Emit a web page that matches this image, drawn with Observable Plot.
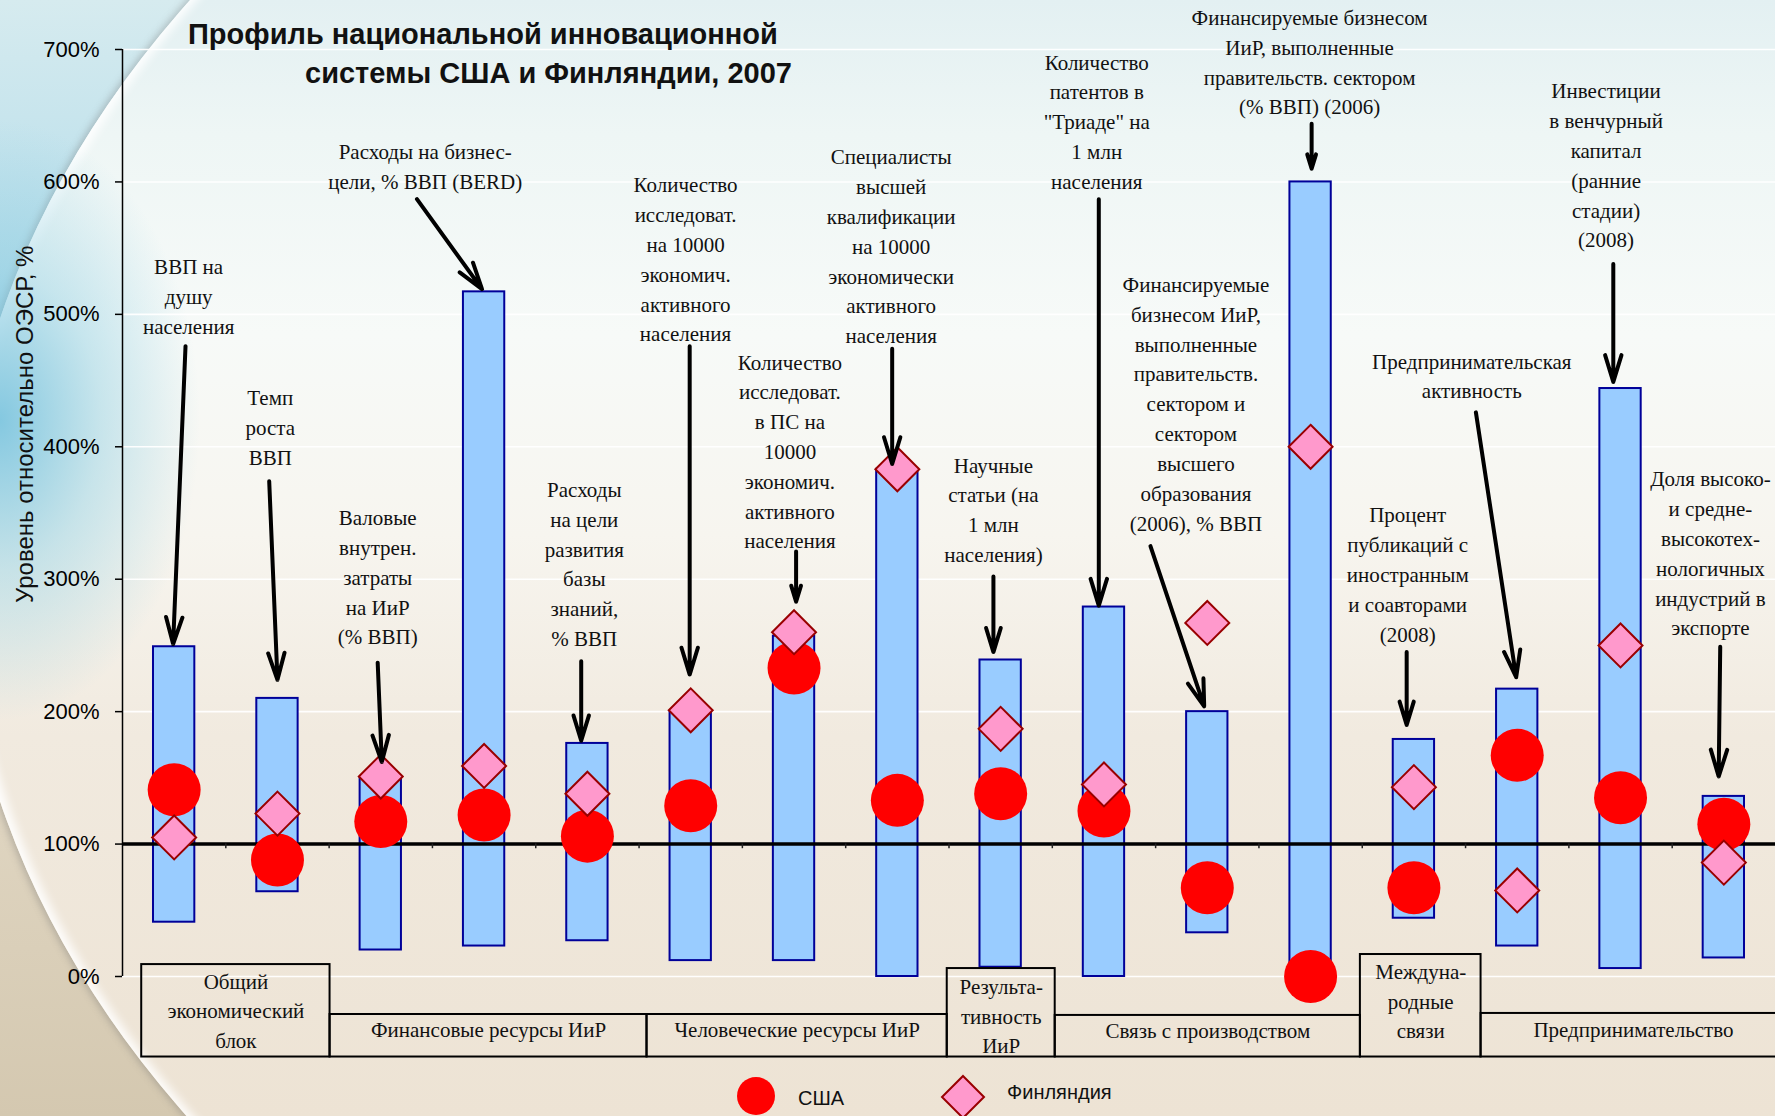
<!DOCTYPE html>
<html lang="ru">
<head>
<meta charset="utf-8">
<script src="https://cdn.jsdelivr.net/npm/d3@7"></script>
<script src="https://cdn.jsdelivr.net/npm/@observablehq/plot@0.6"></script>
<style>
  html, body { margin: 0; padding: 0; }
  body {
    width: 1775px; height: 1116px; overflow: hidden; position: relative;
    background: linear-gradient(180deg, #d6ebef 0%, #b3dcea 26%, #93cbe0 40%, #d8ddd2 54%, #e0d6c2 70%, #d4c8b0 100%);
  }
  /* large pale sheet whose left rim forms the curved edge of the slide */
  #sheet {
    position: absolute; left: -40px; top: -505px; width: 3080px; height: 2130px;
    border-radius: 50%;
    background: linear-gradient(180deg, #e3f0f2 0%, #eef6f5 12%, #f7faf8 30%, #f7f5ef 48%, #f1eadf 66%, #ede3d4 100%);
    background-attachment: fixed;
    box-shadow: inset 7px 0 10px rgba(255,255,255,0.9), -3px 0 7px rgba(110,110,110,0.35);
  }
  /* bluish glow along the left edge */
  #glow {
    position: absolute; left: -200px; top: 120px; width: 400px; height: 600px;
    background: radial-gradient(ellipse 50% 50% at 50% 50%, rgba(120,195,222,0.9) 0%, rgba(140,205,225,0.45) 50%, rgba(140,205,225,0) 100%);
  }
  #chart { position: absolute; left: 0; top: 0; }
  .title {
    position: absolute; font: bold 29px "Liberation Sans", Arial, sans-serif;
    line-height: 1; color: #111; white-space: nowrap;
  }
  .leg { position: absolute; font: 20px "Liberation Sans", Arial, sans-serif; line-height: 1; color: #111; }
  .sym { position: absolute; }
</style>
</head>
<body>
<div id="sheet"></div>
<div id="glow"></div>
<div id="chart"></div>
<div class="title" style="left:188px; top:20px">Профиль национальной инновационной</div>
<div class="title" style="left:305px; top:59px">системы США и Финляндии, 2007</div>

<svg class="sym" style="left:737px; top:1077px" width="38" height="40"><circle cx="19" cy="19" r="19" fill="#ff0000"/></svg>
<div class="leg" style="left:798px; top:1088px">США</div>
<svg class="sym" style="left:940px; top:1074px" width="46" height="46"><polygon points="23,2 44,23 23,44 2,23" fill="#ff99cc" stroke="#990000" stroke-width="2"/></svg>
<div class="leg" style="left:1007px; top:1082px">Финляндия</div>

<script>
// Indicators of the national innovation system (level relative to OECD, %)
const indicators = [
  "ВВП на\nдушу\nнаселения",
  "Темп\nроста\nВВП",
  "Валовые\nвнутрен.\nзатраты\nна ИиР\n(% ВВП)",
  "Расходы на бизнес-\nцели, % ВВП (BERD)",
  "Расходы\nна цели\nразвития\nбазы\nзнаний,\n% ВВП",
  "Количество\nисследоват.\nна 10000\nэкономич.\nактивного\nнаселения",
  "Количество\nисследоват.\nв ПС на\n10000\nэкономич.\nактивного\nнаселения",
  "Специалисты\nвысшей\nквалификации\nна 10000\nэкономически\nактивного\nнаселения",
  "Научные\nстатьи (на\n1 млн\nнаселения)",
  "Количество\nпатентов в\n\"Триаде\" на\n1 млн\nнаселения",
  "Финансируемые\nбизнесом ИиР,\nвыполненные\nправительств.\nсектором и\nсектором\nвысшего\nобразования\n(2006), % ВВП",
  "Финансируемые бизнесом\nИиР, выполненные\nправительств. сектором\n(% ВВП) (2006)",
  "Процент\nпубликаций с\nиностранным\nи соавторами\n(2008)",
  "Предпринимательская\nактивность",
  "Инвестиции\nв венчурный\nкапитал\n(ранние\nстадии)\n(2008)",
  "Доля высоко-\nи средне-\nвысокотех-\nнологичных\nиндустрий в\nэкспорте"
];

// Range across OECD countries (min / max), %
const rangeMin = [41, 64, 20, 23, 27, 12, 12, 0, 7, 0, 33, 0, 44, 23, 6, 14];
const rangeMax = [249, 210, 150, 517, 176, 200, 257, 383, 239, 279, 200, 600, 179, 217, 444, 136];

// Country values, %
const usa     = [141, 88, 117, 122, 106, 129, 233, 133, 138, 125, 67, 0, 67, 167, 135, 115];
const finland = [105, 123, 151, 159, 138, 201, 260, 383, 187, 145, 267, 400, 143, 65, 250, 86];

// Indicator blocks shown along the bottom
const blocks = [
  "Общий\nэкономический\nблок",
  "Финансовые ресурсы ИиР",
  "Человеческие ресурсы ИиР",
  "Результа-\nтивность\nИиР",
  "Связь с производством",
  "Междуна-\nродные\nсвязи",
  "Предпринимательство"
];

const yTicks = [0, 100, 200, 300, 400, 500, 600, 700];

// ---- annotation layout (offsets in indicator units, heights in %) ----
const noteDx = [0.14, -0.07, -0.03, -0.57, -0.03, -0.05, -0.04, -0.06, -0.07, -0.07, -0.11, -0.01, -0.06, -0.44, -0.14, -0.13];
const noteY  = [515, 416, 303, 613, 313, 543, 398, 553, 354, 647, 434, 692, 305, 455, 614, 321];
const arrowFrom = [[0.11,476],[-0.08,374],[-0.03,237],[-0.65,587],[-0.06,238],[-0.01,476],[0.02,321],[-0.05,474],[-0.07,302],[-0.05,587],[-0.55,325],[0.01,644],[-0.07,245],[-0.40,426],[-0.07,538],[-0.035,249]];
const arrowTo   = [[-0.01,251],[0,224],[0.01,162],[-0.02,519],[-0.06,178],[-0.01,228],[0.02,283],[-0.05,387],[-0.07,245],[-0.05,280],[-0.03,204],[0.01,610],[-0.07,190],[-0.01,226],[-0.07,449],[-0.05,151]];

// block frames: edges in indicator units, top and bottom in %, label centre in %
const blockEdges = [0.686, 2.509, 5.577, 8.483, 9.528, 12.482, 13.65, 16.6];
const blockTop   = [9, -28.7, -28.7, 6, -29.4, 16.6, -27.9];
const blockBottom = -60.8;
const blockLabelY = [-24.6, -38.8, -38.8, -28.4, -39.3, -17.1, -38.8];

const serif = "'Liberation Serif', 'Times New Roman', serif";
const sans = "'Liberation Sans', Arial, sans-serif";

const rows = indicators.map((name, k) => ({
  i: k + 1, name, lo: rangeMin[k], hi: rangeMax[k], usa: usa[k], fin: finland[k]
}));

const notes = rows.map((d, k) => ({
  x: d.i + noteDx[k], y: noteY[k], text: d.name,
  x1: d.i + arrowFrom[k][0], y1: arrowFrom[k][1],
  x2: d.i + arrowTo[k][0], y2: arrowTo[k][1]
}));

const blockRows = blocks.map((name, k) => ({
  name, x1: blockEdges[k], x2: blockEdges[k + 1], top: blockTop[k], bottom: blockBottom, ly: blockLabelY[k]
}));

const halves = d3.range(1.5, 16.5, 1);

const chart = Plot.plot({
  width: 1775,
  height: 1116,
  marginLeft: 122,
  marginRight: 0,
  marginTop: 49,
  marginBottom: 140,
  style: { background: "transparent", color: "#000", overflow: "visible" },
  x: { domain: [0.5, 16.5], axis: null },
  y: { domain: [0, 700], axis: null },
  marks: [
    // pale horizontal gridlines
    Plot.ruleY(yTicks, { stroke: "#ffffff", strokeWidth: 1.6, strokeOpacity: 0.95 }),
    // y axis
    Plot.axisY({
      ticks: yTicks, tickFormat: d => d + "%", tickSize: 7, tickPadding: 16,
      fontSize: 22, fontFamily: sans, strokeWidth: 1.5
    }),
    Plot.ruleX([0.5], { y1: 0, y2: 700, stroke: "#000", strokeWidth: 1.5 }),
    Plot.text(["Уровень относительно ОЭСР, %"], {
      text: d => d, frameAnchor: "left", y: 417, dx: -97, rotate: -90,
      textAnchor: "middle", fontSize: 24, fontFamily: sans, fill: "#111"
    }),
    // OECD range bars
    Plot.rect(rows, {
      x1: d => d.i - 0.2, x2: d => d.i + 0.2, y1: "lo", y2: "hi",
      fill: "#99ccff", stroke: "#000099", strokeWidth: 2
    }),
    // OECD average = 100%
    Plot.ruleY([100], { stroke: "#000", strokeWidth: 3.5 }),
    Plot.ruleX(halves, { y1: 100, y2: 96.5, stroke: "#222", strokeWidth: 1.5 }),
    // country markers
    Plot.dot(rows, { x: "i", y: "usa", r: 26.5, fill: "#ff0000" }),
    Plot.dot(rows, {
      x: "i", y: "fin", r: 19.8, symbol: "diamond2",
      fill: "#ff99cc", stroke: "#990000", strokeWidth: 2
    }),
    // indicator captions with arrows
    Plot.arrow(notes, {
      x1: "x1", y1: "y1", x2: "x2", y2: "y2",
      stroke: "#000", strokeWidth: 4, headLength: 10.5, headAngle: 34
    }),
    Plot.text(notes, {
      x: "x", y: "y", text: "text", fontSize: 21, lineHeight: 1.42,
      fontFamily: serif, fill: "#111"
    }),
    // block frames along the bottom
    Plot.rect(blockRows, {
      x1: "x1", x2: "x2", y1: "bottom", y2: "top",
      fill: "none", stroke: "#000", strokeWidth: 2
    }),
    Plot.text(blockRows, {
      x: d => (d.x1 + d.x2) / 2, y: "ly", text: "name", fontSize: 21, lineHeight: 1.4,
      fontFamily: serif, fill: "#111"
    })
  ]
});

document.getElementById("chart").append(chart);
</script>
</body>
</html>
